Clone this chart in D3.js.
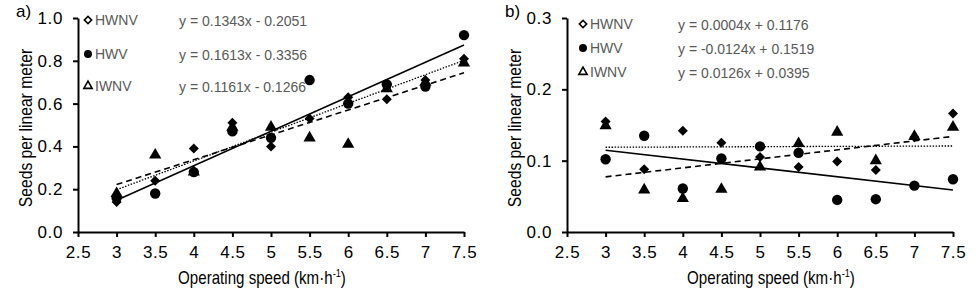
<!DOCTYPE html>
<html>
<head>
<meta charset="utf-8">
<script src="https://cdn.jsdelivr.net/npm/d3@7"></script>
<style>
  body { margin: 0; background: #fff; }
  text { font-family: "Liberation Sans", Arial, sans-serif; }
</style>
</head>
<body>
<div id="chart-area"></div>
<script>
// data
var speeds = [3, 3.5, 4, 4.5, 5, 5.5, 6, 6.5, 7, 7.5];
var xTicks = [2.5, 3, 3.5, 4, 4.5, 5, 5.5, 6, 6.5, 7, 7.5];

// panel a)
var aHWNV = [0.14, 0.24, 0.39, 0.51, 0.40, 0.53, 0.63, 0.62, 0.71, 0.81];
var aHWV  = [0.16, 0.18, 0.28, 0.47, 0.44, 0.71, 0.60, 0.69, 0.68, 0.92];
var aIWNV = [0.18, 0.36, 0.28, 0.49, 0.49, 0.44, 0.41, 0.67, 0.70, 0.79];
var aFits = [[0.1343, -0.2051], [0.1613, -0.3356], [0.1161, -0.1266]];
var aEquations = ["y = 0.1343x - 0.2051", "y = 0.1613x - 0.3356", "y = 0.1161x - 0.1266"];
var aTicks = [0, 0.2, 0.4, 0.6, 0.8, 1.0];

// panel b)
var bHWNV = [0.155, 0.088, 0.142, 0.125, 0.105, 0.091, 0.099, 0.087, 0.133, 0.166];
var bHWV  = [0.102, 0.135, 0.061, 0.103, 0.120, 0.111, 0.045, 0.046, 0.065, 0.074];
var bIWNV = [0.149, 0.059, 0.047, 0.060, 0.091, 0.124, 0.140, 0.100, 0.134, 0.147];
var bFits = [[0.0004, 0.1176], [-0.0124, 0.1519], [0.0126, 0.0395]];
var bEquations = ["y = 0.0004x + 0.1176", "y = -0.0124x + 0.1519", "y = 0.0126x + 0.0395"];
var bTicks = [0, 0.1, 0.2, 0.3];

var seriesNames = ["HWNV", "HWV", "IWNV"];

var width = 980, height = 301;

var svg = d3.select("#chart-area").append("svg")
    .attr("width", width)
    .attr("height", height);

var symSquare = d3.symbol().type(d3.symbolSquare);
var symCircle = d3.symbol().type(d3.symbolCircle);
var symTriangle = d3.symbol().type(d3.symbolTriangle);

// dotted, solid, dashed
var lineDash = ["1.5,1.5", null, "6,4"];
var lineWidth = [1.3, 1.6, 1.6];
// diamonds are squares turned 45 degrees
var rot = [" rotate(45)", "", ""];

function drawPanel(p) {
    var x = d3.scaleLinear().domain([2.5, 7.5]).range([p.left, p.left + 386]);
    var y = d3.scaleLinear().domain([0, p.yMax]).range([232, 18]);

    var g = svg.append("g");

    var xAxis = d3.axisBottom(x)
        .tickValues(xTicks)
        .tickSize(5)
        .tickSizeOuter(0)
        .tickFormat(function(d) { return d; });
    var xg = g.append("g")
        .attr("transform", "translate(0," + 232 + ")")
        .call(xAxis);
    xg.selectAll("text").attr("dy", "1.05em");

    var yAxis = d3.axisLeft(y)
        .tickValues(p.yTicks)
        .tickSize(5)
        .tickSizeOuter(0)
        .tickFormat(d3.format(".1f"));
    var yg = g.append("g")
        .attr("transform", "translate(" + p.left + ",0)")
        .call(yAxis);
    yg.selectAll("text").attr("x", -15);

    g.selectAll(".domain").attr("stroke", "#000").attr("stroke-width", 2);
    g.selectAll(".tick line").attr("stroke", "#000").attr("stroke-width", 2);
    g.selectAll(".tick text")
        .attr("fill", "#000")
        .style("font-size", "17px")
        .style("letter-spacing", "0.6px");

    // fitted lines
    p.fits.forEach(function(f, i) {
        g.append("line")
            .attr("x1", x(3)).attr("y1", y(f[0] * 3 + f[1]))
            .attr("x2", x(7.5)).attr("y2", y(f[0] * 7.5 + f[1]))
            .attr("stroke", "#000")
            .attr("stroke-width", lineWidth[i])
            .attr("stroke-dasharray", lineDash[i]);
    });

    // points
    var syms = [symSquare.size(50), symCircle.size(85), symTriangle.size(65)];
    p.series.forEach(function(vals, i) {
        g.selectAll(null).data(vals).enter().append("path")
            .attr("d", syms[i])
            .attr("transform", function(d, j) {
                return "translate(" + x(speeds[j]) + "," + y(d) + ")" + rot[i];
            })
            .attr("fill", "#000");
    });

    // legend
    var legSyms = [symSquare.size(26), symCircle.size(50), symTriangle.size(30)];
    seriesNames.forEach(function(name, i) {
        var ly = p.legY[i];
        g.append("path")
            .attr("d", legSyms[i])
            .attr("transform", "translate(" + p.legX + "," + ly + ")" + rot[i])
            .attr("fill", i === 1 ? "#000" : "#fff")
            .attr("stroke", "#000")
            .attr("stroke-width", i === 1 ? 0 : 1.6);
        g.append("text")
            .attr("x", p.legX + 7)
            .attr("y", ly + 5)
            .attr("fill", "#595959")
            .style("font-size", "14px")
            .text(name);
        g.append("text")
            .attr("x", p.eqX)
            .attr("y", ly + 6)
            .attr("fill", "#595959")
            .style("font-size", "14px")
            .text(p.equations[i]);
    });

    // panel letter
    g.append("text")
        .attr("x", p.left - 62)
        .attr("y", 17)
        .style("font-size", "17px")
        .text(p.letter);

    // axis labels
    g.append("text")
        .attr("transform", "translate(" + p.xLabelX + ",284) scale(0.84,1)")
        .attr("text-anchor", "middle")
        .style("font-size", "18px")
        .html("Operating speed (km&#183;h<tspan dy='-7' font-size='11px'>-1</tspan><tspan dy='7'>)</tspan>");

    g.append("text")
        .attr("transform", "translate(" + (p.left - 46) + ",128) rotate(-90) scale(0.87,1)")
        .attr("text-anchor", "middle")
        .style("font-size", "18px")
        .text("Seeds per linear meter");
}

drawPanel({
    left: 78, yMax: 1.0, yTicks: aTicks,
    series: [aHWNV, aHWV, aIWNV], fits: aFits, equations: aEquations,
    legX: 88, legY: [20, 54, 86], eqX: 179,
    letter: "a)", xLabelX: 262
});

drawPanel({
    left: 567, yMax: 0.3, yTicks: bTicks,
    series: [bHWNV, bHWV, bIWNV], fits: bFits, equations: bEquations,
    legX: 583, legY: [24, 48, 72], eqX: 678,
    letter: "b)", xLabelX: 771
});
</script>
</body>
</html>
